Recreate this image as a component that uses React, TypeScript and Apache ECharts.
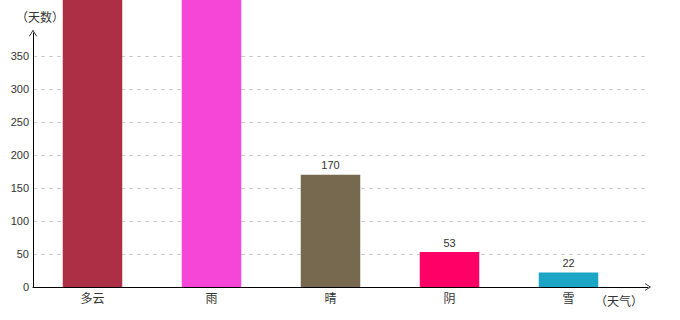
import React, { useEffect, useRef } from "react";
import * as echarts from "echarts";

const categories = ["多云", "雨", "晴", "阴", "雪"];
const values = [520, 500, 170, 53, 22];
const barColors = ["#AD2F45", "#F546D8", "#766950", "#FF0066", "#1BA6C5"];
const yTicks = [0, 50, 100, 150, 200, 250, 300, 350];
const yMax = 385;

const chevron = "path://M5,0 L10,8 L9,8 L5,1.6 L1,8 L0,8 Z";

export default function App() {
  const ref = useRef<HTMLDivElement>(null);
  useEffect(() => {
    if (!ref.current) return;
    const chart = echarts.init(ref.current, null, { renderer: "svg" });
    const cjk = '"Noto Sans CJK SC", sans-serif';
    const cjkName = '"Noto Sans CJK TC", "Noto Sans CJK SC", sans-serif';
    const num = '"Liberation Sans", Arial, sans-serif';
    chart.setOption({
      animation: false,
      backgroundColor: "#ffffff",
      grid: [
        { left: 33, right: 32, top: 33, bottom: 33 },
        { left: 33, width: 595, top: 33, bottom: 33 },
      ],
      xAxis: [
        {
          gridIndex: 0,
          type: "value",
          min: 0,
          max: 1,
          z: 10,
          axisLine: {
            show: true,
            lineStyle: { color: "#000", width: 1 },
            symbol: ["none", chevron],
            symbolSize: [8, 6],
          },
          axisTick: { show: false },
          axisLabel: { show: false },
          splitLine: { show: false },
          name: "（天气）",
          nameLocation: "end",
          nameGap: -29,
          nameTextStyle: {
            fontFamily: cjkName,
            fontSize: 12,
            color: "#333",
            align: "center",
            verticalAlign: "top",
            padding: [7, 0, 0, 0],
          },
        },
        {
          gridIndex: 1,
          type: "category",
          data: categories,
          axisLine: { show: false },
          axisTick: { show: false },
          axisLabel: { fontFamily: cjk, fontSize: 12, color: "#333", margin: 4 },
          splitLine: { show: false },
        },
      ],
      yAxis: [
        {
          gridIndex: 0,
          type: "value",
          min: 0,
          max: yMax,
          interval: 50,
          axisLine: {
            show: true,
            lineStyle: { color: "#000", width: 1 },
            symbol: ["none", chevron],
            symbolSize: [8, 8],
          },
          axisTick: { show: false },
          axisLabel: {
            fontFamily: num,
            fontSize: 11,
            color: "#333",
            margin: 4,
            showMaxLabel: false,
            formatter: (v: number) => (yTicks.includes(v) ? String(v) : ""),
          },
          splitLine: {
            show: true,
            showMaxLine: false,
            lineStyle: { color: "#cccccc", type: [4, 4], width: 1 },
          },
          name: "（天数）",
          nameLocation: "end",
          nameGap: 17,
          nameTextStyle: {
            fontFamily: cjkName,
            fontSize: 12,
            color: "#333",
            align: "center",
            verticalAlign: "middle",
            padding: [0, 0, 0, 14],
          },
        },
        {
          gridIndex: 1,
          type: "value",
          min: 0,
          max: yMax,
          show: false,
          splitLine: { show: false },
        },
      ],
      series: [
        {
          type: "bar",
          xAxisIndex: 1,
          yAxisIndex: 1,
          clip: false,
          z: 5,
          barWidth: "50%",
          data: values.map((v, i) => ({
            value: v,
            itemStyle: { color: barColors[i] },
            label: { show: v <= yMax },
          })),
          label: {
            show: true,
            position: "top",
            distance: 4,
            fontFamily: num,
            fontSize: 11,
            color: "#333",
          },
        },
      ],
    });
    return () => chart.dispose();
  }, []);
  return (
    <div
      ref={ref}
      style={{
        position: "fixed",
        left: 0,
        top: 0,
        width: 680,
        height: 320,
        textSpacingTrim: "space-all",
        fontFeatureSettings: '"chws" 0, "halt" 0, "palt" 0',
      } as React.CSSProperties}
    />
  );
}
